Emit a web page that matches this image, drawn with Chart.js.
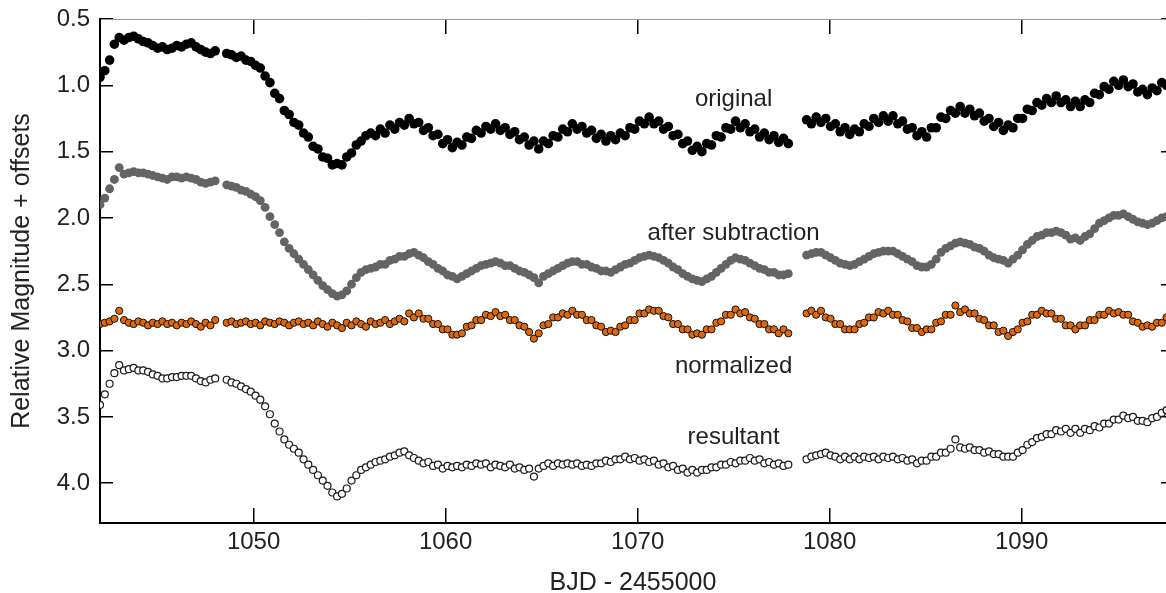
<!DOCTYPE html>
<html>
<head>
<meta charset="utf-8">
<title>light curves</title>
<script src="https://cdn.jsdelivr.net/npm/chart.js@4.4.1/dist/chart.umd.min.js"></script>
<style>
  body { margin: 0; background: #fff; }
  #myChart { display: block; }
</style>
</head>
<body>
<canvas id="myChart" width="1166" height="593"></canvas>
<script>
// three observing segments (start BJD-2455000), regular cadence
var segStart = [1042.0, 1048.6, 1078.8];
var step = 0.25;

var xTicks = [1050, 1060, 1070, 1080, 1090];
var yTicks = [0.5, 1.0, 1.5, 2.0, 2.5, 3.0, 3.5, 4.0];

var labelNames = ['original', 'after subtraction', 'normalized', 'resultant'];
var labelX = 1075;
var labelY = [1.105, 2.115, 3.12, 3.655];

// original
var origA = [0.94, 0.89, 0.81, 0.69, 0.64, 0.66, 0.64, 0.63, 0.65, 0.67, 0.68, 0.70, 0.72, 0.71, 0.73, 0.72, 0.70, 0.71, 0.69, 0.68, 0.71, 0.73, 0.75, 0.76, 0.74];
var origB = [0.76, 0.77, 0.79, 0.78, 0.81, 0.82, 0.85, 0.87, 0.93, 0.98, 1.06, 1.10, 1.19, 1.22, 1.28, 1.30, 1.36, 1.39, 1.46, 1.48, 1.54, 1.55, 1.60, 1.59, 1.60, 1.54, 1.51, 1.45, 1.42, 1.38,
  1.36, 1.38, 1.33, 1.36, 1.30, 1.33, 1.28, 1.30, 1.25, 1.29,
  1.28, 1.34, 1.32, 1.38, 1.37, 1.44, 1.41, 1.47, 1.43, 1.45,
  1.39, 1.40, 1.34, 1.36, 1.31, 1.33, 1.29, 1.34, 1.32, 1.37,
  1.35, 1.41, 1.39, 1.45, 1.42, 1.48, 1.42, 1.44, 1.38, 1.39,
  1.33, 1.35, 1.29, 1.33, 1.31, 1.36, 1.34, 1.40, 1.37, 1.42,
  1.38, 1.41, 1.36, 1.38, 1.32, 1.33, 1.27, 1.29, 1.24, 1.29,
  1.27, 1.33, 1.31, 1.38, 1.37, 1.44, 1.42, 1.49, 1.46, 1.50,
  1.44, 1.45, 1.38, 1.39, 1.32, 1.33, 1.27, 1.32, 1.29, 1.35,
  1.33, 1.39, 1.36, 1.41, 1.38, 1.43, 1.40, 1.44];
var origC = [1.26, 1.29, 1.24, 1.28, 1.25, 1.31, 1.29, 1.35, 1.32, 1.37,
  1.33, 1.35, 1.29, 1.31, 1.25, 1.28, 1.23, 1.27, 1.23, 1.29,
  1.27, 1.33, 1.32, 1.38, 1.35, 1.39, 1.32, 1.32, 1.24, 1.25,
  1.19, 1.21, 1.16, 1.21, 1.18, 1.23, 1.21, 1.27, 1.25, 1.31,
  1.28, 1.34, 1.30, 1.32, 1.25, 1.25, 1.18, 1.19, 1.13, 1.15,
  1.10, 1.13, 1.08, 1.13, 1.11, 1.16, 1.12, 1.16, 1.11, 1.13,
  1.06, 1.07, 1.01, 1.03, 0.97, 1.00, 0.96, 1.01, 0.99, 1.05,
  1.03, 1.07, 1.02, 1.04, 0.98, 1.00];

// after subtraction
var subA = [1.90, 1.85, 1.78, 1.71, 1.62, 1.67, 1.66, 1.65, 1.66, 1.66, 1.67, 1.68, 1.69, 1.70, 1.71, 1.69, 1.69, 1.70, 1.69, 1.70, 1.71, 1.73, 1.74, 1.73, 1.72];
var subB = [1.75, 1.76, 1.77, 1.79, 1.80, 1.82, 1.84, 1.87, 1.92, 1.99, 2.05, 2.11, 2.18, 2.23, 2.27, 2.31, 2.35, 2.39, 2.43, 2.47, 2.51, 2.54, 2.57, 2.59, 2.58, 2.55, 2.50, 2.45, 2.41, 2.39,
  2.38, 2.37, 2.35, 2.35, 2.32, 2.31, 2.29, 2.29, 2.27, 2.26,
  2.28, 2.30, 2.33, 2.35, 2.38, 2.40, 2.43, 2.44, 2.46, 2.44,
  2.42, 2.40, 2.38, 2.36, 2.35, 2.34, 2.33, 2.34, 2.36, 2.36,
  2.38, 2.40, 2.41, 2.43, 2.45, 2.49, 2.44, 2.42, 2.40, 2.38,
  2.36, 2.34, 2.33, 2.33, 2.35, 2.35, 2.37, 2.38, 2.40, 2.40,
  2.41, 2.39, 2.37, 2.35, 2.34, 2.32, 2.30, 2.29, 2.28, 2.29,
  2.30, 2.32, 2.34, 2.37, 2.39, 2.42, 2.44, 2.46, 2.47, 2.48,
  2.46, 2.44, 2.41, 2.38, 2.35, 2.32, 2.30, 2.31, 2.32, 2.34,
  2.36, 2.38, 2.39, 2.41, 2.41, 2.43, 2.43, 2.42];
var subC = [2.28, 2.27, 2.26, 2.26, 2.28, 2.30, 2.32, 2.34, 2.35, 2.36,
  2.35, 2.33, 2.31, 2.29, 2.27, 2.26, 2.25, 2.25, 2.25, 2.27,
  2.29, 2.31, 2.33, 2.36, 2.37, 2.37, 2.35, 2.31, 2.26, 2.23,
  2.21, 2.19, 2.18, 2.19, 2.20, 2.22, 2.23, 2.25, 2.28, 2.30,
  2.31, 2.32, 2.34, 2.31, 2.28, 2.24, 2.20, 2.17, 2.14, 2.13,
  2.11, 2.11, 2.10, 2.11, 2.13, 2.16, 2.15, 2.17, 2.14, 2.12,
  2.08, 2.04, 2.02, 2.00, 1.98, 1.98, 1.97, 1.99, 2.01, 2.03,
  2.04, 2.05, 2.04, 2.02, 2.00, 1.99];

// normalized
var normA = [2.80, 2.79, 2.78, 2.76, 2.70, 2.77, 2.79, 2.80, 2.78, 2.79, 2.81, 2.79, 2.80, 2.78, 2.80, 2.79, 2.81, 2.79, 2.80, 2.78, 2.80, 2.82, 2.79, 2.81, 2.77];
var normB = [2.79, 2.78, 2.80, 2.79, 2.78, 2.80, 2.79, 2.81, 2.78, 2.79, 2.80, 2.78, 2.79, 2.81, 2.79, 2.78, 2.80, 2.79, 2.81, 2.78, 2.80, 2.82, 2.79, 2.81, 2.83, 2.79, 2.81, 2.78, 2.80, 2.82,
  2.78, 2.80, 2.79, 2.77, 2.80, 2.78, 2.76, 2.78,
  2.72, 2.75, 2.72, 2.76, 2.76, 2.80, 2.80, 2.84, 2.84, 2.88,
  2.88, 2.87, 2.82, 2.81, 2.77, 2.77, 2.73, 2.74, 2.71, 2.74,
  2.73, 2.77, 2.77, 2.81, 2.82, 2.86, 2.91, 2.87, 2.81, 2.80,
  2.75, 2.75, 2.72, 2.73, 2.70, 2.73, 2.73, 2.77, 2.77, 2.81,
  2.82, 2.86, 2.85, 2.86, 2.82, 2.81, 2.77, 2.77, 2.72, 2.72,
  2.69, 2.70, 2.70, 2.74, 2.75, 2.80, 2.80, 2.84, 2.84, 2.88,
  2.87, 2.88, 2.84, 2.84, 2.79, 2.78, 2.73, 2.73, 2.69, 2.72,
  2.71, 2.75, 2.76, 2.80, 2.80, 2.84, 2.84, 2.87, 2.84, 2.87];
var normC = [2.72, 2.70, 2.73, 2.70, 2.75, 2.76, 2.80, 2.80, 2.84, 2.84,
  2.84, 2.80, 2.79, 2.75, 2.75, 2.71, 2.72, 2.70, 2.73, 2.73,
  2.77, 2.78, 2.83, 2.83, 2.86, 2.84, 2.84, 2.79, 2.78, 2.73,
  2.73, 2.66, 2.71, 2.69, 2.72, 2.72, 2.76, 2.77, 2.81, 2.81,
  2.86, 2.85, 2.89, 2.86, 2.84, 2.79, 2.78, 2.73, 2.73, 2.70,
  2.72, 2.72, 2.76, 2.76, 2.81, 2.81, 2.84, 2.81, 2.81, 2.77,
  2.77, 2.73, 2.73, 2.70, 2.72, 2.71, 2.73, 2.73, 2.78, 2.79,
  2.82, 2.81, 2.82, 2.79, 2.79, 2.75];

// resultant
var resA = [3.41, 3.33, 3.25, 3.17, 3.11, 3.15, 3.14, 3.13, 3.15, 3.15, 3.16, 3.18, 3.19, 3.21, 3.21, 3.20, 3.20, 3.19, 3.19, 3.19, 3.21, 3.23, 3.24, 3.22, 3.21];
var resB = [3.22, 3.24, 3.25, 3.27, 3.29, 3.31, 3.34, 3.37, 3.42, 3.48, 3.55, 3.61, 3.67, 3.71, 3.74, 3.77, 3.82, 3.86, 3.90, 3.94, 3.98, 4.02, 4.07, 4.10, 4.08, 4.04, 3.98, 3.94, 3.90, 3.88,
  3.86, 3.84, 3.83, 3.82, 3.80, 3.79, 3.77, 3.76,
  3.79, 3.81, 3.83, 3.85, 3.84, 3.87, 3.86, 3.89, 3.87, 3.88,
  3.87, 3.88, 3.86, 3.87, 3.85, 3.86, 3.85, 3.88, 3.86, 3.87,
  3.88, 3.86, 3.89, 3.88, 3.90, 3.89, 3.95, 3.89, 3.87, 3.85,
  3.87, 3.85, 3.86, 3.85, 3.86, 3.85, 3.87, 3.86, 3.87, 3.85,
  3.85, 3.83, 3.84, 3.82, 3.82, 3.80, 3.82, 3.81, 3.83, 3.82,
  3.84, 3.83, 3.86, 3.85, 3.88, 3.87, 3.90, 3.89, 3.92, 3.90,
  3.92, 3.90, 3.90, 3.88, 3.88, 3.86, 3.86, 3.84, 3.85, 3.83,
  3.83, 3.81, 3.83, 3.82, 3.85, 3.84, 3.86, 3.85, 3.87, 3.86];
var resC = [3.82, 3.80, 3.79, 3.78, 3.77, 3.79, 3.80, 3.82, 3.80, 3.82,
  3.80, 3.82, 3.80, 3.81, 3.80, 3.82, 3.80, 3.81, 3.80, 3.82,
  3.81, 3.83, 3.82, 3.85, 3.83, 3.83, 3.80, 3.80, 3.77, 3.77,
  3.74, 3.67, 3.73, 3.74, 3.73, 3.75, 3.75, 3.77, 3.76, 3.78,
  3.78, 3.80, 3.80, 3.80, 3.77, 3.75, 3.71, 3.69, 3.66, 3.65,
  3.63, 3.63, 3.60, 3.61, 3.59, 3.62, 3.59, 3.62, 3.59, 3.60,
  3.57, 3.58, 3.55, 3.55, 3.52, 3.52, 3.49, 3.51, 3.50, 3.53,
  3.53, 3.54, 3.51, 3.50, 3.47, 3.45];

function series(parts) {
  var pts = [];
  for (var s = 0; s < parts.length; s++) {
    for (var i = 0; i < parts[s].length; i++) {
      pts.push({ x: segStart[s] + i * step, y: parts[s][i] });
    }
  }
  return pts;
}

Chart.defaults.font.family = '"Liberation Sans", Arial, sans-serif';
Chart.defaults.color = '#222';

var curveLabels = {
  id: 'curveLabels',
  afterDatasetsDraw: function (chart) {
    var c = chart.ctx;
    var xs = chart.scales.x, ys = chart.scales.y;
    c.save();
    c.font = '24px "Liberation Sans", Arial, sans-serif';
    c.fillStyle = '#222';
    c.textAlign = 'center';
    c.textBaseline = 'middle';
    for (var i = 0; i < labelNames.length; i++) {
      c.fillText(labelNames[i], xs.getPixelForValue(labelX), ys.getPixelForValue(labelY[i]));
    }
    c.restore();
  }
};

function setTicks(list) {
  return function (axis) {
    axis.ticks = list.map(function (v) { return { value: v }; });
  };
}

// fixed box size, no extra label padding pushed into the layout
function fixSize(w, h) {
  return function (s) {
    if (w !== null) s.width = w;
    if (h !== null) s.height = h;
    s.paddingLeft = 0; s.paddingRight = 0; s.paddingTop = 0; s.paddingBottom = 0;
  };
}

chart();
function chart() {
  var ctx = document.getElementById('myChart').getContext('2d');
  var myChart = new Chart(ctx, {
    type: 'scatter',
    data: {
      datasets: [{
        label: 'original',
        data: series([origA, origB, origC]),
        pointRadius: 4.8,
        pointBorderWidth: 0,
        pointBackgroundColor: '#000',
        pointBorderColor: '#000'
      }, {
        label: 'after subtraction',
        data: series([subA, subB, subC]),
        pointRadius: 4.4,
        pointBorderWidth: 0,
        pointBackgroundColor: '#646464',
        pointBorderColor: '#646464'
      }, {
        label: 'normalized',
        data: series([normA, normB, normC]),
        pointRadius: 3.6,
        pointBorderWidth: 1,
        pointBackgroundColor: '#e0680c',
        pointBorderColor: '#111'
      }, {
        label: 'resultant',
        data: series([resA, resB, resC]),
        pointRadius: 3.5,
        pointBorderWidth: 1.2,
        pointBackgroundColor: '#fff',
        pointBorderColor: '#1a1a1a'
      }]
    },
    options: {
      responsive: false,
      animation: false,
      events: [],
      layout: { padding: 0, autoPadding: false },
      plugins: {
        legend: { display: false },
        tooltip: { enabled: false }
      },
      scales: {
        x: {
          type: 'linear',
          position: 'bottom',
          min: 1042,
          max: 1097.52,
          afterBuildTicks: setTicks(xTicks),
          afterFit: fixSize(null, 70),
          grid: { drawOnChartArea: false, tickLength: -15, color: '#000', lineWidth: 1.5 },
          border: { color: '#000', width: 2 },
          ticks: { padding: 20, font: { size: 24 }, color: '#222', callback: function (v) { return v; } },
          title: { display: true, text: 'BJD - 2455000', font: { size: 25, lineHeight: 1 }, padding: { top: 0, bottom: -3 }, color: '#222' }
        },
        x2: {
          type: 'linear',
          position: 'top',
          min: 1042,
          max: 1097.52,
          afterBuildTicks: setTicks(xTicks),
          afterFit: fixSize(null, 19),
          grid: { drawOnChartArea: false, tickLength: -15, color: '#000', lineWidth: 1.5 },
          border: { color: '#999', width: 1 },
          ticks: { display: false }
        },
        y: {
          type: 'linear',
          position: 'left',
          reverse: true,
          min: 0.5,
          max: 4.3,
          afterBuildTicks: setTicks(yTicks),
          afterFit: fixSize(100, null),
          grid: { drawOnChartArea: false, tickLength: -13, color: '#000', lineWidth: 1.5 },
          border: { color: '#000', width: 2 },
          ticks: { padding: 23, font: { size: 24 }, color: '#222', callback: function (v) { return v.toFixed(1); } },
          title: { display: true, text: 'Relative Magnitude + offsets', font: { size: 25, lineHeight: 1 }, padding: { top: 10, bottom: 0 }, color: '#222' }
        },
        y2: {
          type: 'linear',
          position: 'right',
          reverse: true,
          min: 0.5,
          max: 4.3,
          afterBuildTicks: setTicks(yTicks),
          afterFit: fixSize(0, null),
          grid: { drawOnChartArea: false, tickLength: -5, color: '#000', lineWidth: 1.5 },
          border: { display: false },
          ticks: { display: false }
        }
      }
    },
    plugins: [curveLabels]
  });
}
</script>
</body>
</html>
